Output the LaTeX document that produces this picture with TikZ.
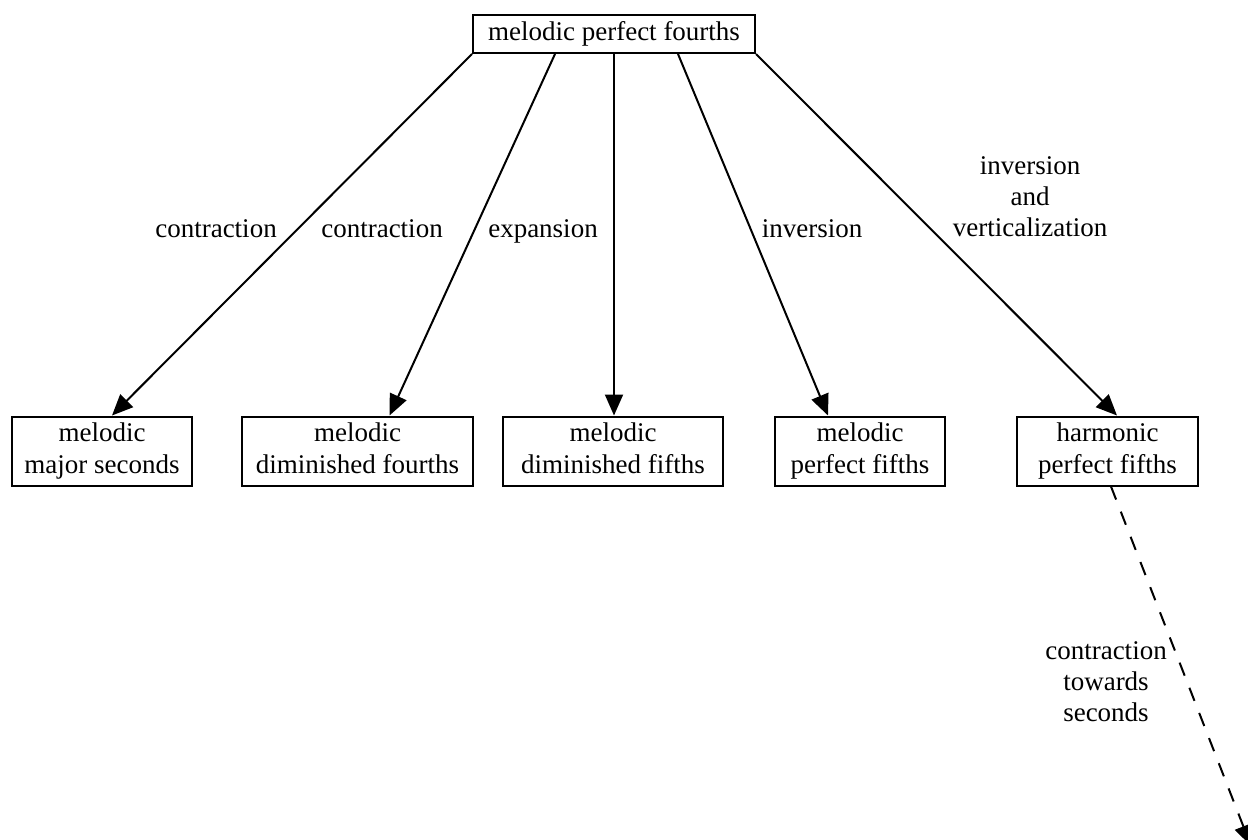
\documentclass[tikz,border=0pt]{standalone}
\usepackage{fontspec}
\setmainfont{Liberation Serif}
\usetikzlibrary{arrows.meta}

\begin{document}
\begin{tikzpicture}[
    x=0.5pt, y=-0.5pt,
    box/.style={draw, line width=1pt, minimum height=34.5pt, inner sep=1pt, text depth=3.2pt, align=center, font=\fontsize{13.5}{16}\selectfont},
    arrow/.style={-{Triangle[length=10.5pt,width=9pt]}, line width=1pt},
    lbl/.style={align=center, inner sep=1pt, text depth=3.2pt, font=\fontsize{13.5}{15.5}\selectfont}
]
\useasboundingbox (0,0) rectangle (1248,840);
\clip (0,0) rectangle (1248,840);

% Source node
\node[box, minimum width=141pt, minimum height=19pt] (fourths) at (614,34) {melodic perfect fourths};

% Derived nodes
\node[box, minimum width=90pt] (seconds) at (102,451) {melodic\\major seconds};
\node[box, minimum width=115.5pt] (dimfourths) at (357.5,451) {melodic\\diminished fourths};
\node[box, minimum width=110pt] (dimfifths) at (613,451) {melodic\\diminished fifths};
\node[box, minimum width=85pt] (perfifths) at (860,451) {melodic\\perfect fifths};
\node[box, minimum width=90.5pt] (harmfifths) at (1107.5,451) {harmonic\\perfect fifths};

% Edge labels
\node[lbl] (lcon1) at (216,232) {contraction};
\node[lbl] (lcon2) at (382,232) {contraction};
\node[lbl] (lexp) at (543,232) {expansion};
\node[lbl] (linv) at (812,232) {inversion};
\node[lbl] (linvv) at (1030,199.5) {inversion\\and\\verticalization};
\node[lbl] (ltow) at (1106,685) {contraction\\towards\\seconds};

% Off-page target
\coordinate (offpage) at (1251,846);

% Arrows
\draw[arrow] (fourths.south west) -- ([xshift=5pt]seconds.north);
\draw[arrow] ([xshift=-29.5pt]fourths.south) -- ([xshift=16pt]dimfourths.north);
\draw[arrow] (fourths.south) -- (fourths.south |- dimfifths.north);
\draw[arrow] ([xshift=32pt]fourths.south) -- ([xshift=-16pt]perfifths.north);
\draw[arrow] (fourths.south east) -- ([xshift=4.75pt]harmfifths.north);
\draw[arrow, dash pattern=on 7pt off 6.5pt] ([xshift=1.75pt]harmfifths.south) -- (offpage);

\end{tikzpicture}
\end{document}
